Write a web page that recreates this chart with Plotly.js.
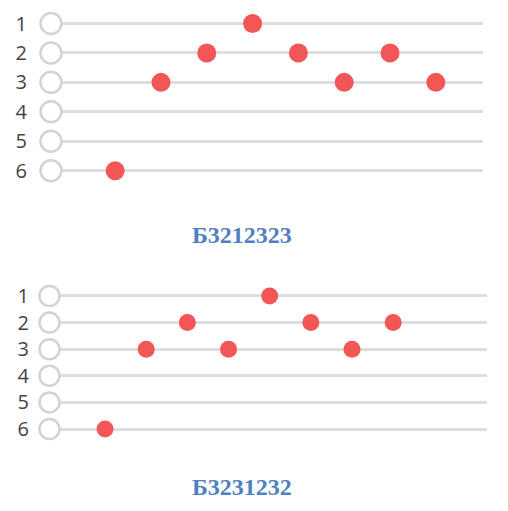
<!DOCTYPE html>
<html>
<head>
<meta charset="utf-8">
<script src="https://cdn.plot.ly/plotly-3.0.1.min.js"></script>
<style>html,body{margin:0;padding:0;background:#fff;}#chart{width:508px;height:511px;}</style>
</head>
<body>
<div id="chart"></div>
<script>
// Data
const rowLabels = ['1', '2', '3', '4', '5', '6'];
const rows = [1, 2, 3, 4, 5, 6];
const noteIndex = [1, 2, 3, 4, 5, 6, 7, 8];
const melodyA = [6, 3, 2, 1, 2, 3, 2, 3];
const melodyB = [6, 3, 2, 3, 1, 2, 3, 2];
const titleA = 'Б3212323';
const titleB = 'Б3231232';

// Styling
const red = '#f25656';
const ringColor = '#d3d3d3';
const gridColor = '#dedede';
const labelColor = '#444444';
const titleColor = '#4f80c0';
const xRangeA = [-0.40, 9.03];
const xRangeB = [-0.35, 10.28];

function rings(xa, ya, xr, size) {
  return {
    x: rows.map(() => xr[0]), y: rows, xaxis: xa, yaxis: ya,
    mode: 'markers', type: 'scatter', cliponaxis: false, hoverinfo: 'skip',
    marker: {size: size, color: '#ffffff', line: {color: ringColor, width: 2.5}}
  };
}
function notes(mel, xa, ya, size) {
  return {
    x: noteIndex, y: mel, xaxis: xa, yaxis: ya,
    mode: 'markers', type: 'scatter', cliponaxis: false, hoverinfo: 'skip',
    marker: {size: size, color: red}
  };
}

const data = [
  rings('x', 'y', xRangeA, 21),
  notes(melodyA, 'x', 'y', 19),
  rings('x2', 'y2', xRangeB, 20),
  notes(melodyB, 'x2', 'y2', 17)
];

function yax(domain, standoff) {
  return {
    domain: domain, range: [6.5, 0.5], tickvals: rows, ticktext: rowLabels,
    showgrid: true, gridcolor: gridColor, gridwidth: 3, zeroline: false,
    showline: false, ticks: '', ticklabelstandoff: standoff,
    tickfont: {family: 'Open Sans, Liberation Sans, Arial, sans-serif', size: 20, color: labelColor},
    fixedrange: true
  };
}
function xax(domain, range, anchor) {
  return {
    domain: domain, range: range, anchor: anchor, visible: false,
    showgrid: false, zeroline: false, fixedrange: true
  };
}

const layout = {
  width: 508, height: 511,
  margin: {l: 0, r: 0, t: 0, b: 0},
  paper_bgcolor: '#ffffff', plot_bgcolor: '#ffffff',
  showlegend: false, hovermode: false,
  xaxis: xax([0.1004, 0.9508], xRangeA, 'y'),
  yaxis: yax([0.6372, 0.9828], 23),
  xaxis2: xax([0.0974, 0.9587], xRangeB, 'y2'),
  yaxis2: yax([0.1344, 0.4468], 21),
  annotations: [
    {text: titleA, xref: 'paper', yref: 'paper', x: 0.476, y: 0.540,
     xanchor: 'center', yanchor: 'middle', showarrow: false,
     font: {family: 'Liberation Serif, Times New Roman, serif', size: 24, color: titleColor, weight: 'bold'}},
    {text: titleB, xref: 'paper', yref: 'paper', x: 0.477, y: 0.047,
     xanchor: 'center', yanchor: 'middle', showarrow: false,
     font: {family: 'Liberation Serif, Times New Roman, serif', size: 24, color: titleColor, weight: 'bold'}}
  ]
};

Plotly.newPlot('chart', data, layout, {displayModeBar: false, staticPlot: true});
</script>
</body>
</html>
